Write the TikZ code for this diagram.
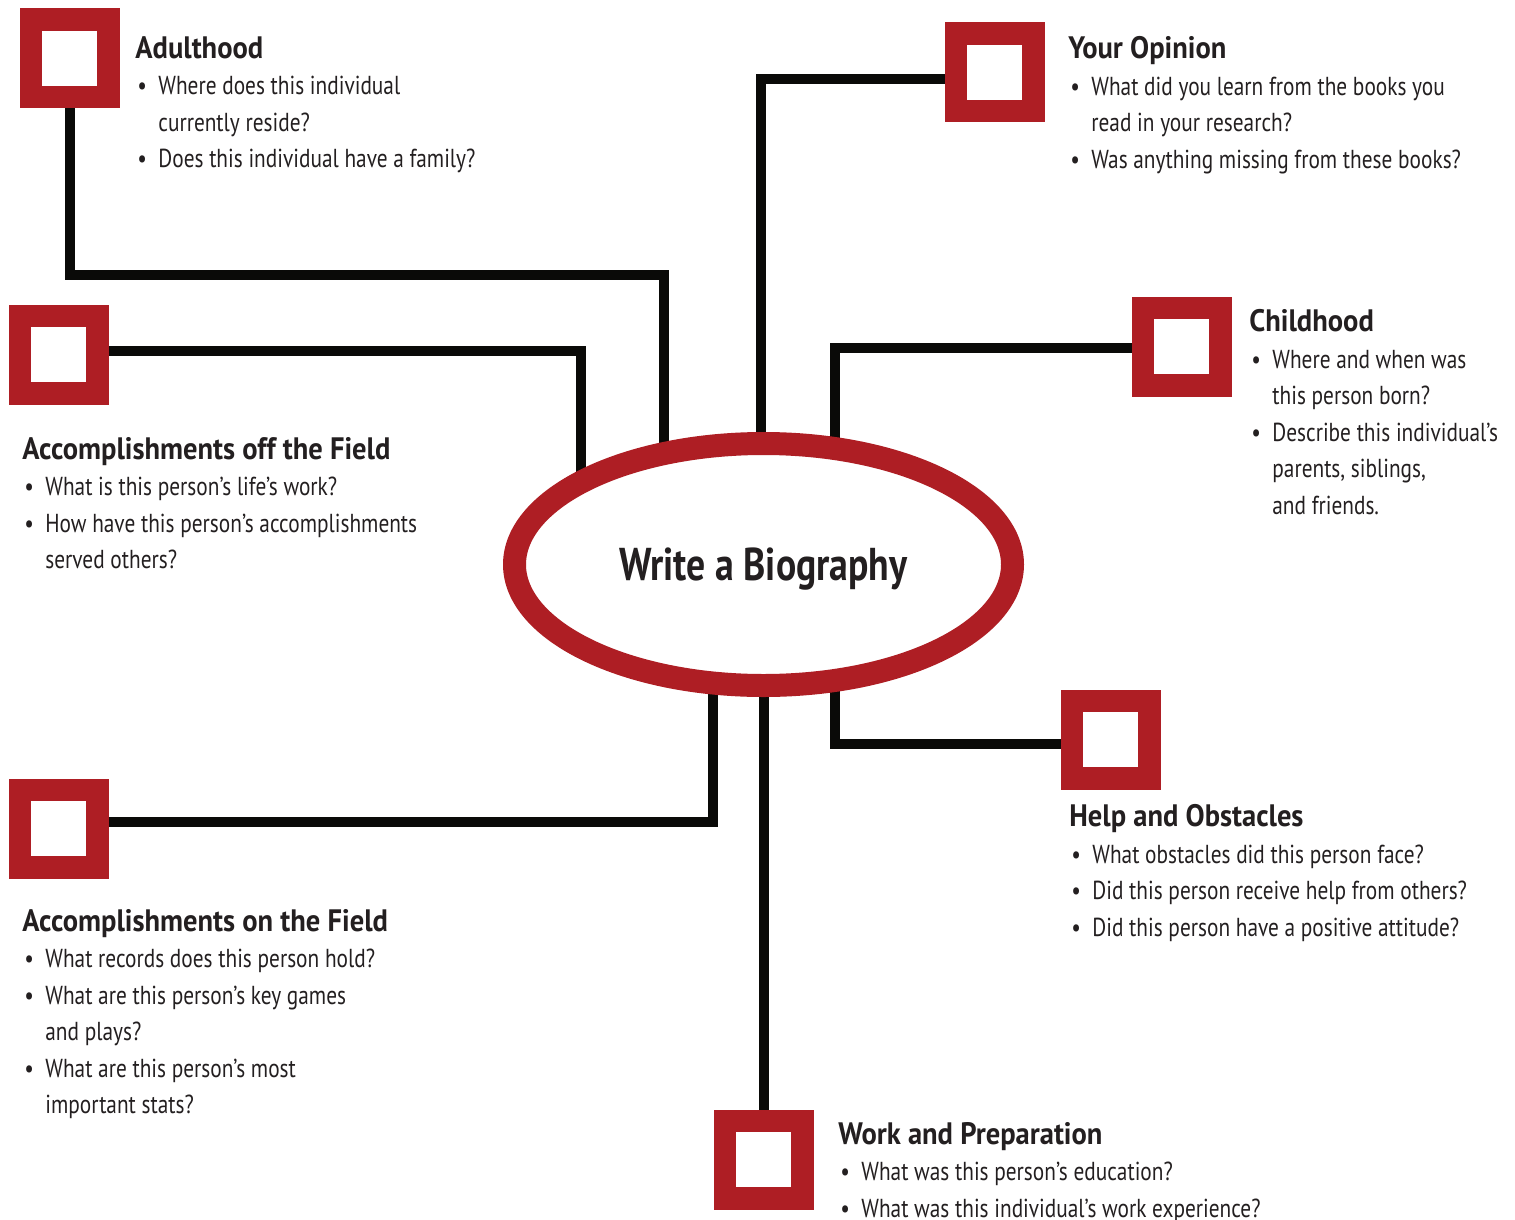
\documentclass[tikz,border=0pt]{standalone}
\usepackage{fontspec}
\setmainfont[FakeStretch=0.82]{PT Sans}
\newfontfamily\bioheadfont[FakeStretch=0.92]{PT Sans}
\usepackage{tikz}
\usetikzlibrary{
	backgrounds,									% 定义图片背景
	shapes.geometric,								% 几何形状
}

\definecolor{bioRed}{RGB}{174,30,36}
\definecolor{bioInk}{RGB}{35,31,32}
\definecolor{bioLine}{RGB}{10,10,8}

\newcommand{\biohead}[1]{{\bioheadfont\fontsize{15.5}{18.25}\selectfont\bfseries #1}}
\newcommand{\bioitem}{\makebox[11.5pt][l]{\hspace{1pt}\textbullet}}
\newcommand{\biocont}{\hspace*{11.5pt}}

\tikzset{
	redbox/.style={draw=bioRed, fill=white, line width=11.25pt, minimum size=38.75pt, inner sep=0pt, outer sep=0pt},
	bioellipse/.style={ellipse, draw=bioRed, fill=white, line width=11.5pt, minimum width=249pt, minimum height=121pt,
		inner sep=0pt, text=bioInk, text depth=0pt, font=\fontsize{23}{27}\selectfont\bfseries},
	infotext/.style={anchor=north west, inner sep=0pt, align=left, text=bioInk, font=\fontsize{13}{18.25}\selectfont},
	link/.style={draw=bioLine, line width=5pt},
}

\begin{document}
\begin{tikzpicture}[x=0.5pt, y=-0.5pt]
	\useasboundingbox (0,0) rectangle (1515,1220);

	\node[bioellipse] (bio) at (763.5,564.5) {Write a Biography};

	\node[redbox] (adultbox)   at (69.5,58.5) {};
	\node[redbox] (opinionbox) at (994.5,72.5) {};
	\node[redbox] (childbox)   at (1181.5,346.5) {};
	\node[redbox] (offbox)     at (58.5,354.5) {};
	\node[redbox] (onbox)      at (58.5,828.5) {};
	\node[redbox] (helpbox)    at (1110.5,739.5) {};
	\node[redbox] (workbox)    at (763.5,1159.5) {};

	\node[infotext] (adulttext) at (135,36) {\biohead{Adulthood}\\
		\bioitem Where does this individual\\
		\biocont currently reside?\\
		\bioitem Does this individual have a family?};
	\node[infotext] (opiniontext) at (1068,36) {\biohead{Your Opinion}\\
		\bioitem What did you learn from the books you\\
		\biocont read in your research?\\
		\bioitem Was anything missing from these books?};
	\node[infotext] (childtext) at (1249,309) {\biohead{Childhood}\\
		\bioitem Where and when was\\
		\biocont this person born?\\
		\bioitem Describe this individual’s\\
		\biocont parents, siblings,\\
		\biocont and friends.};
	\node[infotext] (offtext) at (22,437) {\biohead{Accomplishments off the Field}\\
		\bioitem What is this person’s life’s work?\\
		\bioitem How have this person’s accomplishments\\
		\biocont served others?};
	\node[infotext] (ontext) at (22,909) {\biohead{Accomplishments on the Field}\\
		\bioitem What records does this person hold?\\
		\bioitem What are this person’s key games\\
		\biocont and plays?\\
		\bioitem What are this person’s most\\
		\biocont important stats?};
	\node[infotext] (helptext) at (1069,804) {\biohead{Help and Obstacles}\\
		\bioitem What obstacles did this person face?\\
		\bioitem Did this person receive help from others?\\
		\bioitem Did this person have a positive attitude?};
	\node[infotext] (worktext) at (838,1122) {\biohead{Work and Preparation}\\
		\bioitem What was this person’s education?\\
		\bioitem What was this individual’s work experience?};

	% connectors behind the boxes and the ellipse
	\coordinate (adultbend)   at (664,275);
	\coordinate (opinionbend) at (761,79);
	\coordinate (offbend)     at (581,351);
	\coordinate (childbend)   at (835,348);
	\coordinate (onbend)      at (713,822);
	\coordinate (helpbend)    at (835,744);
	\begin{scope}[on background layer]
		\draw[link] (adultbox) |- (adultbend) -- (adultbend |- bio);
		\draw[link] (opinionbox.west |- opinionbend) -| (opinionbend |- bio);
		\draw[link] (offbox.east |- offbend) -| (offbend |- bio);
		\draw[link] (childbox.west |- childbend) -| (childbend |- bio);
		\draw[link] (onbox.east |- onbend) -| (onbend |- bio);
		\draw[link] (helpbox.west |- helpbend) -| (helpbend |- bio);
		\draw[link] (workbox) -- (bio);
	\end{scope}
\end{tikzpicture}
\end{document}
